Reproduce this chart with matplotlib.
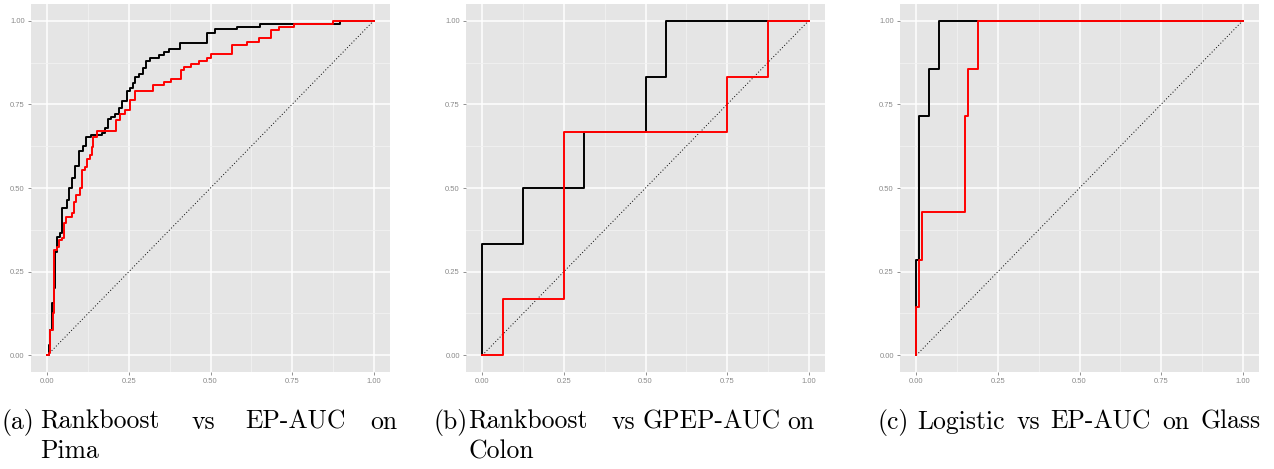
import numpy as np
import matplotlib
matplotlib.use("Agg")
import matplotlib.pyplot as plt

# ROC curves (false positive rate, true positive rate)
pima_rank_fpr=[0,0.005,0.009,0.014,0.02,0.025,0.03,0.040,0.045,0.060,0.067,0.076,0.086,0.096,0.109,0.117,0.134,0.168,0.178,0.185,0.196,0.208,0.219,0.229,0.244,0.252,0.263,0.270,0.280,0.293,0.302,0.316,0.341,0.357,0.374,0.406,0.489,0.513,0.580,0.651,0.897,1.0]
pima_rank_tpr=[0,0.03,0.075,0.155,0.2,0.31,0.355,0.365,0.44,0.465,0.50,0.53,0.565,0.61,0.625,0.653,0.658,0.665,0.68,0.705,0.713,0.722,0.74,0.76,0.79,0.80,0.815,0.832,0.84,0.86,0.879,0.889,0.899,0.906,0.916,0.934,0.962,0.974,0.982,0.990,1.0,1.0]
pima_ep_fpr=[0,0.004,0.007,0.017,0.019,0.022,0.030,0.035,0.045,0.050,0.057,0.076,0.081,0.089,0.101,0.106,0.116,0.122,0.130,0.137,0.140,0.152,0.211,0.222,0.239,0.252,0.270,0.324,0.357,0.379,0.41,0.418,0.439,0.464,0.488,0.503,0.567,0.613,0.648,0.684,0.71,0.755,0.876,1.0]
pima_ep_tpr=[0,0.008,0.075,0.125,0.215,0.314,0.324,0.346,0.35,0.394,0.414,0.424,0.459,0.479,0.50,0.553,0.563,0.588,0.598,0.623,0.653,0.671,0.702,0.722,0.734,0.762,0.79,0.807,0.817,0.827,0.852,0.862,0.872,0.88,0.89,0.90,0.927,0.935,0.947,0.972,0.982,0.99,1.0,1.0]

colon_rank_fpr=[0,0,0.125,0.3125,0.5,0.5625,1.0]
colon_rank_tpr=[0,0.333,0.5,0.667,0.833,1.0,1.0]
colon_gpep_fpr=[0,0.0625,0.25,0.75,0.875,1.0]
colon_gpep_tpr=[0,0.167,0.667,0.833,1.0,1.0]

glass_log_fpr=[0,0,0.008,0.039,0.07,1.0]
glass_log_tpr=[0,0.286,0.714,0.857,1.0,1.0]
glass_ep_fpr=[0,0,0.008,0.018,0.148,0.158,0.189,1.0]
glass_ep_tpr=[0,0.143,0.286,0.429,0.714,0.857,1.0,1.0]

tick_vals=[0,0.25,0.5,0.75,1.0]
tick_labels=["0.00","0.25","0.50","0.75","1.00"]
minor_vals=[0.125,0.375,0.625,0.875]

W,H=1274,469
fig=plt.figure(figsize=(W/100,H/100),dpi=100)

def make_axes(left_px):
    #ggplot-like panel, positions in pixels of the reference
    ax=fig.add_axes([left_px/W,1-372/H,359/W,368/H])
    ax.set_facecolor("#E5E5E5")
    for sp in ax.spines.values():
        sp.set_visible(False)
    ax.set_xlim(-0.05,1.05)
    ax.set_ylim(-0.05,1.05)
    ax.set_xticks(tick_vals)
    ax.set_xticklabels(tick_labels)
    ax.set_yticks(tick_vals)
    ax.set_yticklabels(tick_labels)
    ax.set_xticks(minor_vals,minor=True)
    ax.set_yticks(minor_vals,minor=True)
    ax.grid(which="major",color="white",linewidth=1.1)
    ax.grid(which="minor",color="#F2F2F2",linewidth=0.6)
    ax.set_axisbelow(True)
    ax.tick_params(which="major",length=2.5,width=0.6,color="#7F7F7F",labelcolor="#8A8A8A",labelsize=5.5,pad=2)
    ax.tick_params(which="minor",length=0)
    for lab in ax.get_xticklabels()+ax.get_yticklabels():
        lab.set_fontfamily("Liberation Sans")
    return ax

def draw_roc(ax,black_fpr,black_tpr,red_fpr,red_tpr):
    ax.plot([0,1],[0,1],color="black",linestyle=(0,(1,2.2)),linewidth=0.7)
    ax.plot(black_fpr,black_tpr,drawstyle="steps-post",color="black",linewidth=1.4)
    ax.plot(red_fpr,red_tpr,drawstyle="steps-post",color="red",linewidth=1.4)

ax_a=make_axes(31)
draw_roc(ax_a,pima_rank_fpr,pima_rank_tpr,pima_ep_fpr,pima_ep_tpr)
ax_b=make_axes(466)
draw_roc(ax_b,colon_rank_fpr,colon_rank_tpr,colon_gpep_fpr,colon_gpep_tpr)
ax_c=make_axes(900)
draw_roc(ax_c,glass_log_fpr,glass_log_tpr,glass_ep_fpr,glass_ep_tpr)

# captions, word by word so the justified spacing of the subcaptions is kept
cap_size=18.5
def cap(x_px,y_px,s):
    fig.text(x_px/W,1-y_px/H,s,fontfamily="cmr10",fontsize=cap_size,ha="left",va="baseline")

line1=428.5
line2=458
for x,s in [(2,"(a)"),(40,"Rankboost"),(192,"vs"),(245,"EP-AUC"),(370,"on")]:
    cap(x,line1,s)
cap(40,line2,"Pima")
for x,s in [(434,"(b)"),(468,"Rankboost"),(612,"vs"),(643,"GPEP-AUC"),(787,"on")]:
    cap(x,line1,s)
cap(468,line2,"Colon")
for x,s in [(877,"(c)"),(917,"Logistic"),(1017,"vs"),(1050,"EP-AUC"),(1162,"on"),(1200,"Glass")]:
    cap(x,line1,s)

fig.savefig("out.png",dpi=100)
